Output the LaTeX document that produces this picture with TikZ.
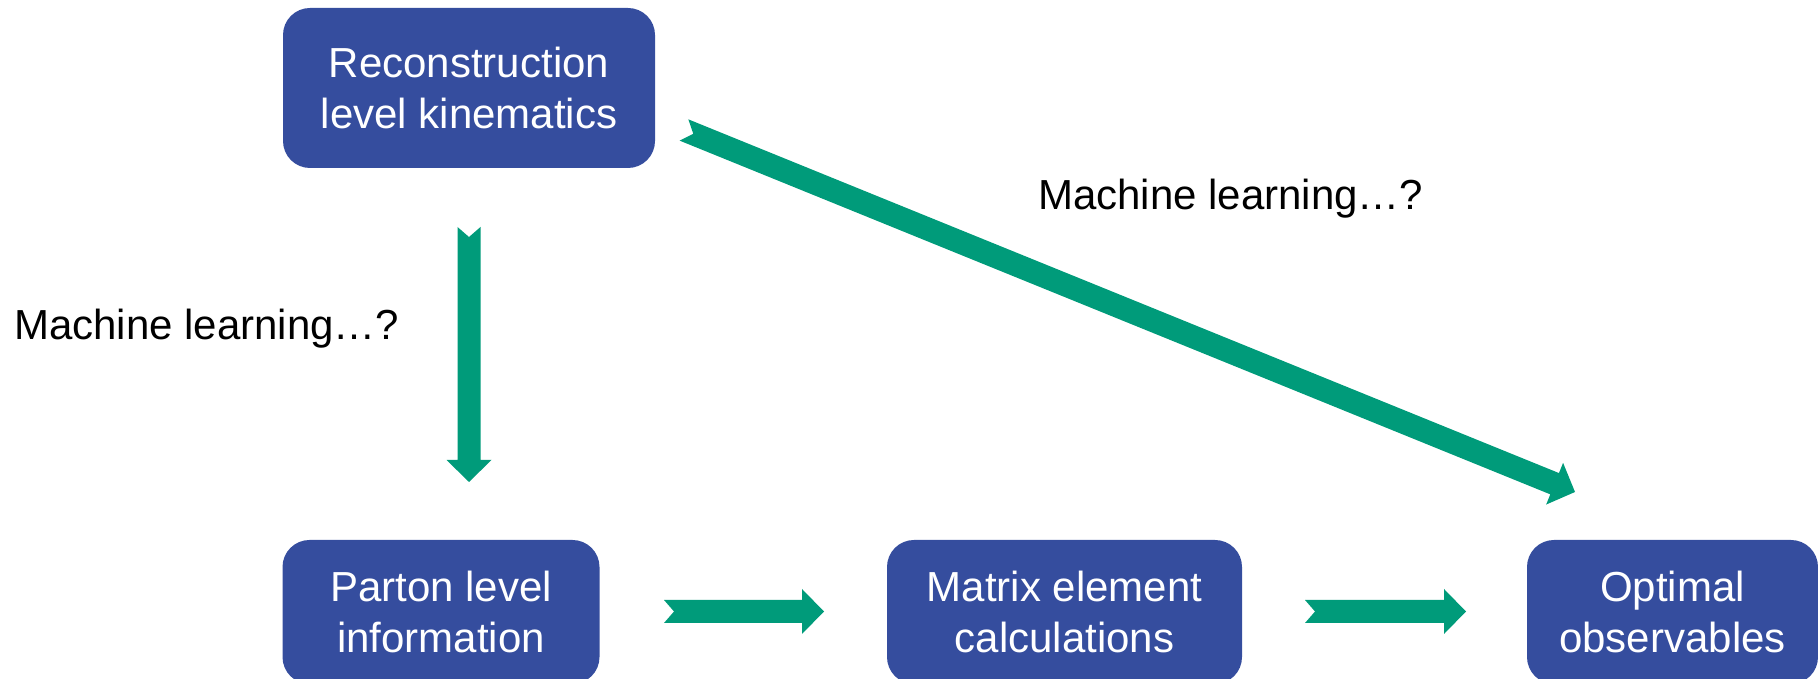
\documentclass[tikz,border=0pt]{standalone}
\usepackage{fontspec}
\setmainfont{Liberation Sans}
\usetikzlibrary{calc}
\definecolor{boxblue}{RGB}{53,77,158}
\definecolor{arrowgreen}{RGB}{0,155,122}
\newcommand\blockarrow[2]{%
  \coordinate (hb) at ($(#2)!22pt!(#1)$);
  \fill[arrowgreen]
    ($(#1)!11.5pt!90:(#2)$) -- ($(hb)!11.5pt!90:(#2)$) -- ($(hb)!22.5pt!90:(#2)$)
    -- (#2) -- ($(hb)!22.5pt!-90:(#2)$) -- ($(hb)!11.5pt!-90:(#2)$)
    -- ($(#1)!11.5pt!-90:(#2)$) -- ($(#1)!10pt!(#2)$) -- cycle;}
\begin{document}
\begin{tikzpicture}[x=1pt,y=1pt,
  box/.style={fill=boxblue, rounded corners=27pt, inner sep=0pt, text=white,
    align=center, font=\fontsize{42}{51.5}\selectfont},
  lbl/.style={anchor=base west, inner sep=0pt, font=\fontsize{42}{51}\selectfont}]
\clip (0,0) rectangle (1818,679);
\useasboundingbox (0,0) rectangle (1818,679);
\node[box, minimum width=372pt, minimum height=160pt] (reco) at (469,591) {Reconstruction\\level kinematics};
\node[box, minimum width=317pt, minimum height=144pt] (parton) at (441,67) {Parton level\\information};
\node[box, minimum width=355pt, minimum height=144pt] (matrix) at (1064.5,67) {Matrix element\\calculations};
\node[box, minimum width=291pt, minimum height=144pt] (optimal) at (1672.5,67) {Optimal\\observables};
\node[lbl] (ml1) at (14,339) {Machine learning…?};
\node[lbl] (ml2) at (1038,469) {Machine learning…?};
\coordinate (v1) at (469,452);
\coordinate (v2) at (469,197);
\coordinate (h1a) at (664,67.5);
\coordinate (h1b) at (824,67.5);
\coordinate (h2a) at (1305,67.5);
\coordinate (h2b) at (1466,67.5);
\coordinate (d1) at (684,549);
\coordinate (d2) at (1575,187);
\blockarrow{v1}{v2}
\blockarrow{h1a}{h1b}
\blockarrow{h2a}{h2b}
\blockarrow{d1}{d2}
\end{tikzpicture}
\end{document}
